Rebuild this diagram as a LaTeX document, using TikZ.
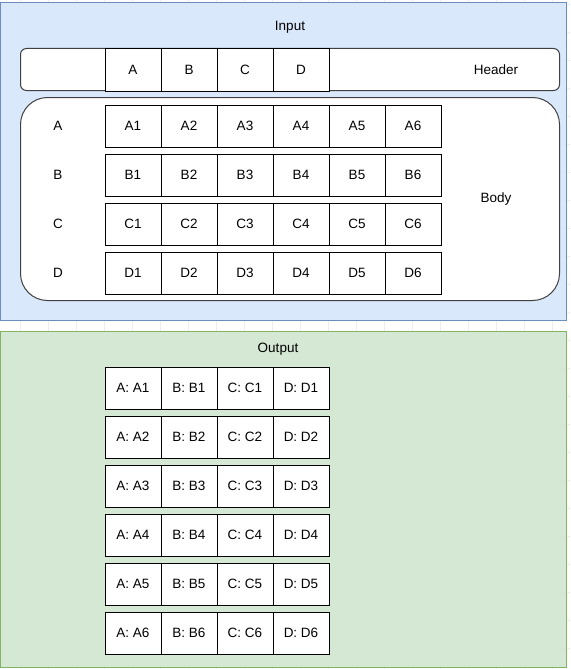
\documentclass[tikz,border=0pt]{standalone}
\usepackage{fontspec}
\setmainfont{Liberation Sans}
\definecolor{inFill}{HTML}{DAE8FC}
\definecolor{inLine}{HTML}{6C8EBF}
\definecolor{outFill}{HTML}{D5E8D4}
\definecolor{outLine}{HTML}{82B366}
\definecolor{gridc}{HTML}{EDEDED}
\begin{document}
\begin{tikzpicture}[x=1pt,y=-1pt,
  font=\fontsize{13.5}{16}\selectfont,
  cell/.style={draw=black,fill=white,line width=1pt,minimum width=56pt,minimum height=42pt,inner sep=0pt,anchor=north west},
  plain/.style={inner sep=0pt},
  panel/.style={draw=black!75,fill=white,line width=1pt}]
\useasboundingbox (0,0) rectangle (570,669);
\fill[white] (0,0) rectangle (570,669);
% faint background grid
\foreach \gx in {20.5,48.5,...,570} \draw[gridc,line width=0.6pt] (\gx,0) -- (\gx,669);
\foreach \gy in {4.5,32.5,...,669} \draw[gridc,line width=0.6pt] (0,\gy) -- (570,\gy);
% containers
\draw[fill=inFill,draw=inLine,line width=1pt] (0.5,2.5) rectangle (566.5,320.5);
\draw[fill=outFill,draw=outLine,line width=1pt] (0.5,331.5) rectangle (566.5,667.5);
\node[plain] (inTitle) at (290,27) {Input};
\node[plain] (outTitle) at (278,349) {Output};
% header panel
\draw[panel,rounded corners=6pt] (20.5,48.5) rectangle (559.5,90.5);
\foreach \c [count=\i from 0] in {A,B,C,D}
  \node[cell,minimum height=42pt] (h\c) at (104.5+56*\i,48.5) {\c};
\node[plain] (hdr) at (496,69.5) {Header};
% body panel
\draw[panel,rounded corners=27pt] (20.5,97.5) rectangle (559.5,300.5);
\foreach \r [count=\j from 0] in {A,B,C,D}{
  \node[plain] (lbl\r) at (58,125.5+49*\j) {\r};
  \foreach \k in {1,...,6}
    \node[cell] (\r\k) at (48.5+56*\k,104.5+49*\j) {\r\k};
}
\node[plain] (body) at (496,199) {Body};
% output rows
\foreach \k [count=\j from 0] in {1,...,6}{
  \foreach \r [count=\i from 0] in {A,B,C,D}
    \node[cell] (o\r\k) at (104.5+56*\i,366.5+49*\j) {\r: \r\k};
}
\end{tikzpicture}
\end{document}
